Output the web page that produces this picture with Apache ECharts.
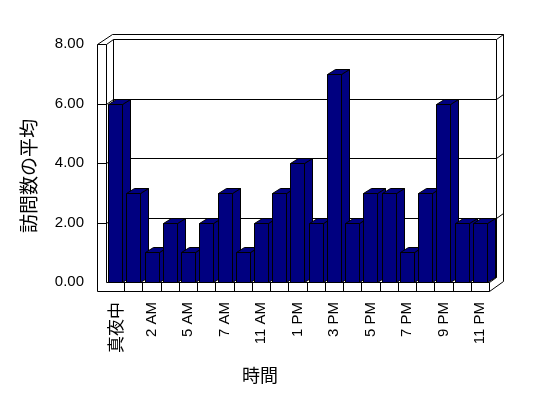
<!DOCTYPE html>
<html>
<head>
<meta charset="utf-8">
<script src="https://cdn.jsdelivr.net/npm/echarts@6/dist/echarts.min.js"></script>
<style>html,body{margin:0;padding:0;background:#fff}</style>
</head>
<body>
<div id="main" style="width:548px;height:398px;"></div>
<script>
// 時間帯ごとの訪問数の平均
var hours = ['真夜中', '1 AM', '2 AM', '4 AM', '5 AM', '6 AM', '7 AM', '10 AM', '11 AM', '12 PM', '1 PM',
  '2 PM', '3 PM', '4 PM', '5 PM', '6 PM', '7 PM', '8 PM', '9 PM', '10 PM', '11 PM'];
var visits = [6, 3, 1, 2, 1, 2, 3, 1, 2, 3, 4, 2, 7, 2, 3, 3, 1, 3, 6, 2, 2];
var yTicks = [2, 4, 6];
var yMax = 8;

var font = 'Liberation Sans, Arial, "Noto Sans CJK JP", sans-serif';

function px(v) { return Math.round(v) + 0.5; }
function seg(a, b, c, d) {
  return { type: 'line', shape: { x1: px(a), y1: px(b), x2: px(c), y2: px(d) },
    style: { stroke: '#000', lineWidth: 1 } };
}

// 壁と床（3D風の枠）
function renderFrame(params, api) {
  var cs = params.coordSys;
  var x0 = cs.x, x1 = cs.x + cs.width;
  var y0 = api.coord([0, 0])[1], yT = api.coord([0, yMax])[1];
  var k = [];
  // 左の壁
  k.push(seg(x0 - 9, yT, x0 - 9, y0 + 9));
  k.push(seg(x0, yT, x0, y0));
  k.push(seg(x0 - 9, yT, x0, yT));
  k.push(seg(x0 - 9, yT, x0 + 6, yT - 10));
  k.push(seg(x0, yT, x0 + 7, yT - 5));
  // 奥の壁
  k.push(seg(x0 + 7, yT - 5, x1 + 7, yT - 5));
  k.push(seg(x0 + 7, yT - 5, x0 + 7, y0 - 5));
  k.push(seg(x1 + 7, yT - 5, x1 + 7, y0 - 5));
  k.push(seg(x0 + 6, yT - 10, x1 + 14, yT - 10));
  k.push(seg(x1 + 14, yT - 10, x1 + 14, y0 - 1));
  k.push(seg(x1 + 7, yT - 5, x1 + 14, yT - 10));
  // 目盛線
  yTicks.forEach(function (v) {
    var y = api.coord([0, v])[1];
    k.push(seg(x0 + 7, y - 5, x1 + 7, y - 5));
    k.push(seg(x1 + 7, y - 5, x1 + 14, y - 10));
    k.push(seg(x0 - 9, y, x0, y));
    k.push(seg(x0, y, x0 + 7, y - 5));
  });
  // 床
  k.push(seg(x0, y0, x1, y0));
  k.push(seg(x0 - 9, y0 + 9, x1, y0 + 9));
  k.push(seg(x1, y0, x1, y0 + 9));
  k.push(seg(x0 + 7, y0 - 5, x1 + 7, y0 - 5));
  k.push(seg(x1, y0, x1 + 7, y0 - 5));
  k.push(seg(x1, y0 + 9, x1 + 14, y0 - 1));
  var bw = api.size([1, 0])[0];
  for (var i = 1; i < hours.length; i++) {
    var x = x0 + bw * i;
    k.push(seg(x, y0, x, y0 + 9));
  }
  return { type: 'group', children: k };
}

// 3D風の棒
function renderBar(params, api) {
  var i = api.value(0), v = api.value(1);
  var base = api.coord([i, 0]), top = api.coord([i, v]);
  var w = api.size([1, 0])[0] * 0.77;
  var l = Math.round(base[0] - w / 2) + 0.5, r = l + Math.round(w);
  var b = Math.round(base[1]) + 0.5, t = Math.round(top[1]) + 0.5;
  var dx = 8, dy = -5;
  var st = { fill: '#000080', stroke: '#000', lineWidth: 1 };
  return { type: 'group', children: [
    { type: 'polygon', shape: { points: [[r, b], [r + dx, b + dy], [r + dx, t + dy], [r, t]] }, style: st },
    { type: 'polygon', shape: { points: [[l, t], [l + dx, t + dy], [r + dx, t + dy], [r, t]] }, style: st },
    { type: 'rect', shape: { x: l, y: t, width: r - l, height: b - t }, style: st }
  ] };
}

var myChart = echarts.init(document.getElementById('main'));

var option = {
  animation: false,
  backgroundColor: '#fff',
  grid: { left: 106, right: 59, top: 44, bottom: 116 },
  xAxis: {
    type: 'category',
    data: hours,
    axisLine: { show: false },
    axisTick: { show: false },
    splitLine: { show: false },
    axisLabel: { rotate: 90, interval: 1, margin: 20, hideOverlap: false,
      fontFamily: font, fontSize: 15, color: '#000',
      formatter: function (v) { return /AM|PM/.test(v) ? v : '{cjk|' + v + '}'; },
      rich: { cjk: { fontFamily: '"Noto Sans CJK JP"', fontSize: 17, color: '#000' } } }
  },
  yAxis: {
    type: 'value',
    min: 0,
    max: yMax,
    interval: 2,
    axisLine: { show: false },
    axisTick: { show: false },
    splitLine: { show: false },
    axisLabel: { margin: 22, fontFamily: font, fontSize: 15, color: '#000',
      formatter: function (v) { return v.toFixed(2); } }
  },
  graphic: [
    { type: 'text', x: 29, y: 176, rotation: Math.PI / 2,
      style: { text: '訪問数の平均', font: '19px "Noto Sans CJK JP"', fill: '#000',
        textAlign: 'center', textVerticalAlign: 'middle' } },
    { type: 'text', x: 260, y: 375,
      style: { text: '時間', font: '18px "Noto Sans CJK JP"', fill: '#000',
        textAlign: 'center', textVerticalAlign: 'middle' } }
  ],
  series: [
    { type: 'custom', z: 1, silent: true, clip: false, renderItem: renderFrame, data: [[0, 0]] },
    { type: 'custom', z: 2, silent: true, clip: false, renderItem: renderBar,
      data: visits.map(function (v, i) { return [i, v]; }) }
  ]
};

myChart.setOption(option);
</script>
</body>
</html>
